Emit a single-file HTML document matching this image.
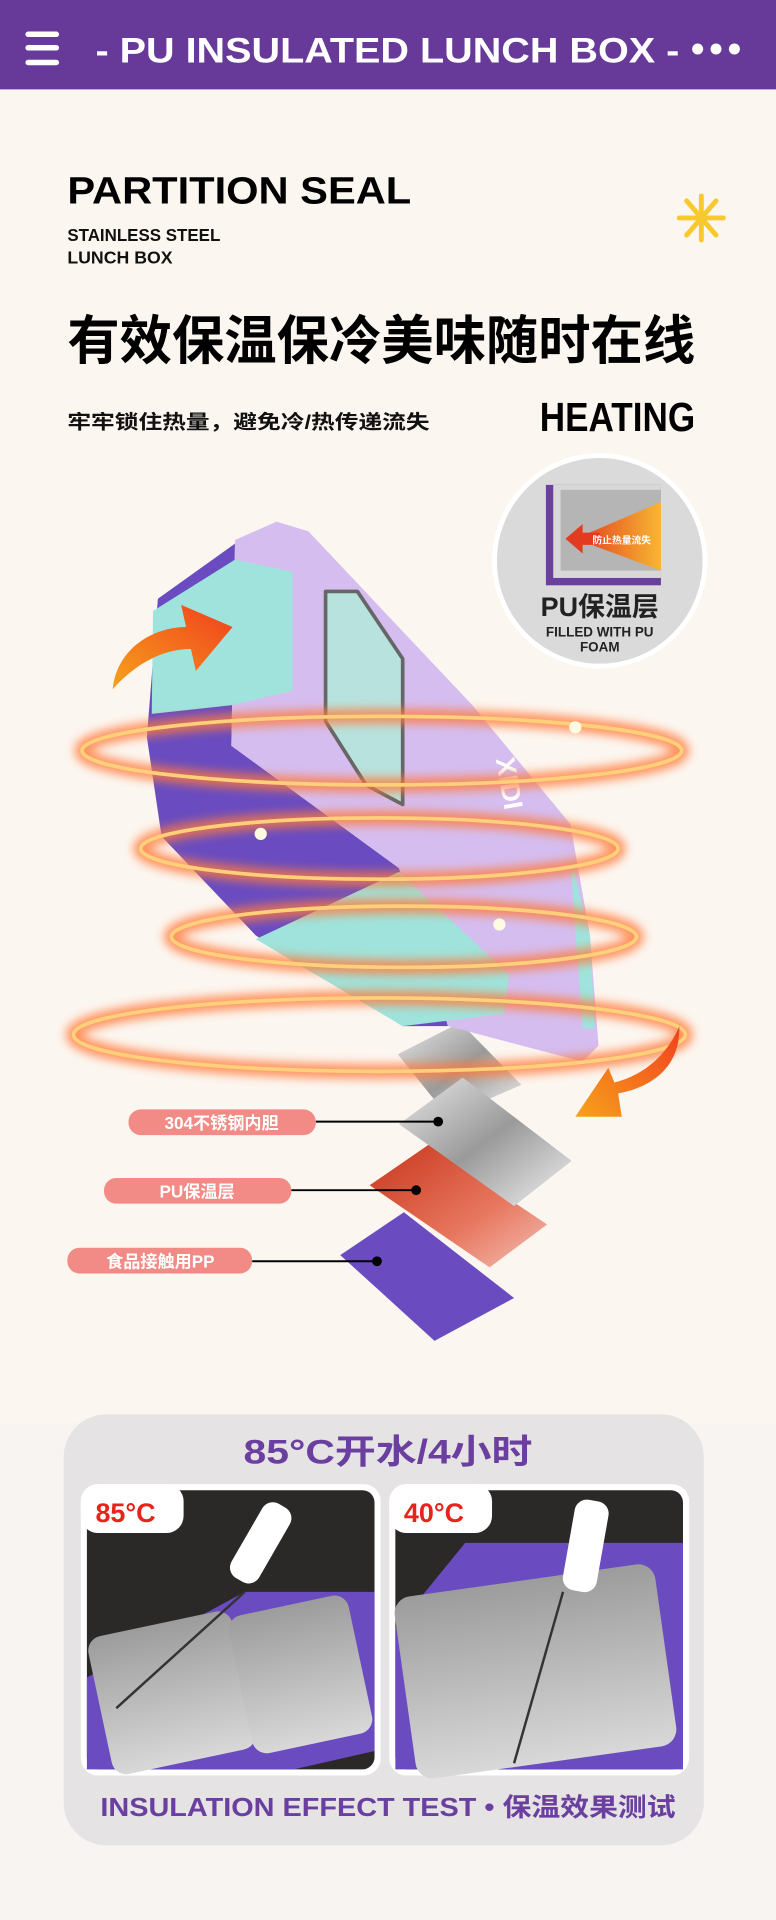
<!DOCTYPE html>
<html><head><meta charset="utf-8"><style>
html,body{margin:0;padding:0;background:#fcf6f0}
svg{display:block}
text{font-family:"Liberation Sans","Noto Sans CJK SC",sans-serif;font-weight:bold}
</style></head><body>
<svg width="776" height="1920" viewBox="0 0 634 1568" preserveAspectRatio="none" xmlns="http://www.w3.org/2000/svg">
<defs>
<filter id="glow" x="-20%" y="-100%" width="140%" height="300%"><feGaussianBlur stdDeviation="4"/></filter>
<linearGradient id="steel" x1="0" y1="0" x2="1" y2="1"><stop offset="0" stop-color="#e8e8e8"/><stop offset=".5" stop-color="#9a9a9a"/><stop offset="1" stop-color="#f0f0f0"/></linearGradient>
<linearGradient id="red" x1="0" y1="0" x2="1" y2="1"><stop offset="0" stop-color="#c8361c"/><stop offset=".6" stop-color="#e7765e"/><stop offset="1" stop-color="#f3c0b4"/></linearGradient>
<linearGradient id="tray" x1="0" y1="0" x2="0" y2="1"><stop offset="0" stop-color="#9c9c9c"/><stop offset="1" stop-color="#d8d8d8"/></linearGradient>
<linearGradient id="heat" x1="1" y1="0" x2="0" y2="0"><stop offset="0" stop-color="#f7b733"/><stop offset="1" stop-color="#e23b1f"/></linearGradient>
<linearGradient id="arr" x1="0" y1="1" x2="1" y2="0"><stop offset="0" stop-color="#f7a21b"/><stop offset="1" stop-color="#f0401e"/></linearGradient>
</defs>
<rect width="634" height="1568" fill="#fcf6f0"/>
<!-- header -->
<rect width="634" height="73" fill="#673a9a"/>
<g stroke="#fff" stroke-width="4.5" stroke-linecap="round"><line x1="23" y1="28" x2="46" y2="28"/><line x1="23" y1="39" x2="46" y2="39"/><line x1="23" y1="51" x2="46" y2="51"/></g>
<text x="78" y="51" font-size="29" fill="#fff" textLength="477" lengthAdjust="spacingAndGlyphs">- PU INSULATED LUNCH BOX -</text>
<g fill="#fff"><circle cx="570" cy="40" r="4.5"/><circle cx="585" cy="40" r="4.5"/><circle cx="600" cy="40" r="4.5"/></g>
<!-- titles -->
<text x="55" y="166" font-size="31" fill="#000" textLength="281" lengthAdjust="spacingAndGlyphs">PARTITION SEAL</text>
<text x="55" y="197" font-size="14" fill="#111" textLength="125" lengthAdjust="spacingAndGlyphs">STAINLESS STEEL</text>
<text x="55" y="215" font-size="14" fill="#111" textLength="86" lengthAdjust="spacingAndGlyphs">LUNCH BOX</text>
<g stroke="#f7c92f" stroke-width="4" stroke-linecap="round"><line x1="573" y1="160" x2="573" y2="196"/><line x1="555" y1="178" x2="591" y2="178"/><line x1="561" y1="164" x2="585" y2="192"/><line x1="585" y1="164" x2="561" y2="192"/></g>
<text x="55" y="293" font-size="43" fill="#000" font-weight="900" textLength="513" lengthAdjust="spacingAndGlyphs">有效保温保冷美味随时在线</text>
<text x="55" y="350" font-size="16" fill="#111" textLength="296" lengthAdjust="spacingAndGlyphs">牢牢锁住热量，避免冷/热传递流失</text>
<text x="441" y="352" font-size="33" fill="#000" textLength="127" lengthAdjust="spacingAndGlyphs">HEATING</text>
<!-- circle -->
<circle cx="490" cy="458" r="86" fill="#dadada" stroke="#fff" stroke-width="4"/>
<rect x="446" y="396" width="94" height="82" fill="#6a3fa0"/>
<rect x="452" y="396" width="88" height="76" fill="#d8d8d8"/>
<rect x="458" y="400" width="82" height="66" fill="#b5b5b5"/>
<polygon points="470,440 540,410 540,466" fill="url(#heat)"/>
<path d="M462 440 l14 -12 v7 h14 v10 h-14 v7z" fill="#e23b1f"/>
<text x="484" y="444" font-size="8" fill="#fff">防止热量流失</text>
<text x="490" y="503" font-size="22" fill="#222" text-anchor="middle">PU保温层</text>
<text x="490" y="520" font-size="11" fill="#222" text-anchor="middle">FILLED WITH PU</text>
<text x="490" y="532" font-size="11" fill="#222" text-anchor="middle">FOAM</text>
<!-- box -->
<polygon points="325,861 376,835 426,886 366,912" fill="url(#steel)"/>
<polygon points="129,489 192,444 189,609 326,709 366,838 329,838 209,764 132,683 120,602" fill="#6a4cc0"/>
<polygon points="192,441 226,426 252,434 386,576 466,673 482,764 489,854 476,867 366,838 326,709 189,609" fill="#d5bdf0"/>
<polygon points="125,499 192,457 239,467 239,564 189,576 124,583" fill="#9fe3dc"/>
<polygon points="209,767 326,712 416,796 412,828 329,838" fill="#9fe3dc"/>
<polygon points="466,700 482,764 486,840 476,840 470,760" fill="#9fe3dc"/>
<polygon points="266,483 292,483 329,538 329,657 299,641 266,589" fill="#b7e2de" stroke="#666" stroke-width="3" stroke-linejoin="round"/>
<text x="0" y="0" font-size="22" fill="#fff" transform="translate(405,620) rotate(80)">XIDI</text>
<!-- rings -->
<g fill="none" stroke="#ff7a3a" stroke-width="12" opacity=".8" filter="url(#glow)">
<ellipse cx="312" cy="613" rx="245" ry="28"/><ellipse cx="310" cy="693" rx="195" ry="25"/><ellipse cx="330" cy="765" rx="190" ry="25"/><ellipse cx="310" cy="845" rx="250" ry="30"/></g>
<g fill="none" stroke="#ffd07a" stroke-width="3">
<ellipse cx="312" cy="613" rx="245" ry="28"/><ellipse cx="310" cy="693" rx="195" ry="25"/><ellipse cx="330" cy="765" rx="190" ry="25"/><ellipse cx="310" cy="845" rx="250" ry="30"/></g>
<g fill="#fffbe0"><circle cx="470" cy="594" r="5"/><circle cx="213" cy="681" r="5"/><circle cx="408" cy="755" r="5"/></g>
<!-- arrows -->
<path d="M92 563 C95 530 125 512 152 512 L148 494 L190 512 L160 548 L156 530 C130 530 108 545 92 563Z" fill="url(#arr)"/>
<path d="M555 838 C556 872 532 888 505 893 L508 912 L470 912 L497 872 L502 884 C527 878 546 860 555 838Z" fill="url(#arr)"/>
<!-- plates -->
<polygon points="278,1025 330,990 420,1060 355,1095" fill="#6a4cc0"/>
<polygon points="302,968 350,935 447,1000 400,1035" fill="url(#red)"/>
<polygon points="326,918 378,880 467,948 420,985" fill="url(#steel)"/>
<!-- labels -->
<g stroke="#000" stroke-width="1.6"><line x1="258" y1="916" x2="358" y2="916"/><line x1="238" y1="972" x2="340" y2="972"/><line x1="206" y1="1030" x2="308" y2="1030"/></g>
<g fill="#000"><circle cx="358" cy="916" r="4"/><circle cx="340" cy="972" r="4"/><circle cx="308" cy="1030" r="4"/></g>
<g fill="#f28b86"><rect x="105" y="906" width="153" height="21" rx="10"/><rect x="85" y="962" width="153" height="21" rx="10"/><rect x="55" y="1019" width="151" height="21" rx="10"/></g>
<g fill="#fff" font-size="14" text-anchor="middle"><text x="181" y="922">304不锈钢内胆</text><text x="161" y="978">PU保温层</text><text x="131" y="1035">食品接触用PP</text></g>
<!-- bottom -->
<rect x="0" y="1162" width="634" height="406" fill="#f7f4f1"/>
<rect x="52" y="1155" width="523" height="352" rx="35" fill="#e5e3e3"/>
<text x="317" y="1195" font-size="28" fill="#6a3fa0" text-anchor="middle" textLength="236" lengthAdjust="spacingAndGlyphs">85°C开水/4小时</text>
<g>
<rect x="66" y="1212" width="245" height="238" rx="14" fill="#fff"/>
<rect x="71" y="1217" width="235" height="228" rx="10" fill="#2b2828"/>
<polygon points="71,1370 200,1300 306,1300 306,1430 240,1445 71,1445" fill="#6a4cc0"/>
<rect x="80" y="1325" width="120" height="115" rx="12" fill="url(#tray)" transform="rotate(-12 140 1380)"/>
<rect x="195" y="1310" width="100" height="115" rx="12" fill="url(#tray)" transform="rotate(-12 245 1365)"/>
<line x1="95" y1="1395" x2="200" y2="1300" stroke="#333" stroke-width="2"/>
<rect x="200" y="1225" width="26" height="70" rx="10" fill="#fff" transform="rotate(30 213 1260)"/>
<rect x="66" y="1212" width="84" height="40" rx="14" fill="#fff"/>
<text x="78" y="1243" font-size="22" fill="#e8231c">85°C</text>
</g>
<g>
<rect x="318" y="1212" width="245" height="238" rx="14" fill="#fff"/>
<rect x="323" y="1217" width="235" height="228" rx="10" fill="#2b2828"/>
<polygon points="323,1330 380,1260 558,1260 558,1445 323,1445" fill="#6a4cc0"/>
<rect x="330" y="1290" width="215" height="150" rx="14" fill="url(#tray)" transform="rotate(-8 437 1365)"/>
<line x1="460" y1="1300" x2="420" y2="1440" stroke="#333" stroke-width="2"/>
<rect x="465" y="1225" width="28" height="75" rx="10" fill="#fff" transform="rotate(10 479 1260)"/>
<rect x="318" y="1212" width="84" height="40" rx="14" fill="#fff"/>
<text x="330" y="1243" font-size="22" fill="#e8231c">40°C</text>
</g>
<text x="317" y="1483" font-size="21" fill="#6a3fa0" text-anchor="middle" textLength="470" lengthAdjust="spacingAndGlyphs">INSULATION EFFECT TEST • 保温效果测试</text>
</svg>
</body></html>
